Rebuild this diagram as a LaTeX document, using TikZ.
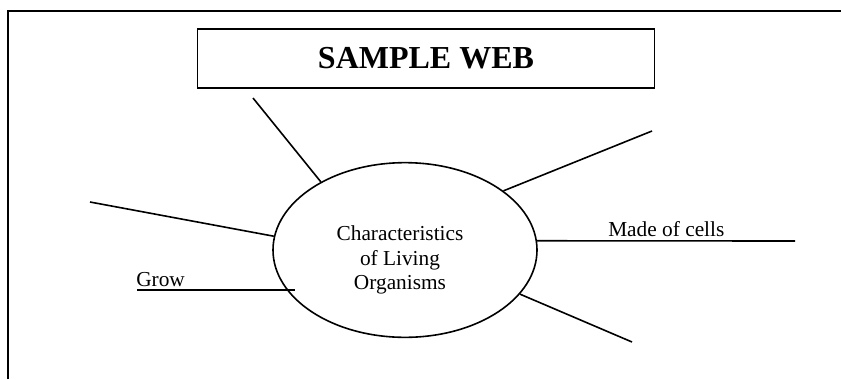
\documentclass[tikz,border=0pt]{standalone}
\usepackage{fontspec}
\setmainfont{Liberation Serif}
\usepackage{tikz}
\usetikzlibrary{shapes.geometric}
\tikzset{
	webline/.style={line width=1.2pt},
	titlebox/.style={draw, line width=1.3pt, minimum width=342.75pt, minimum height=44.5pt, inner sep=0pt, font=\fontsize{24}{28}\selectfont\bfseries},
	centeroval/.style={ellipse, draw, line width=1.2pt, minimum width=198pt, minimum height=131pt, inner sep=0pt},
	ovaltext/.style={inner sep=0pt, align=center, font=\fontsize{16}{18.4}\selectfont},
	branchlabel/.style={inner sep=0pt, font=\fontsize{16}{18}\selectfont}
}

\begin{document}
\begin{tikzpicture}[x=0.75pt, y=-0.75pt]
	\useasboundingbox (0,0) rectangle (841,379);
	%page frame (open at the bottom and on the right)
	\coordinate (framebl) at (8,379);
	\coordinate (frametl) at (8,11);
	\coordinate (frametr) at (841,11);
	\draw [webline] (framebl) -- (frametl) -- (frametr);
	
	\node [titlebox] (title) at (426,58.5) {SAMPLE WEB};
	\node [centeroval] (org) at (405,250) {};
	\node [ovaltext] (orgtext) at (400,260) {Characteristics\\of Living\\Organisms};
	
	%free ends of the spokes
	\coordinate (topleft) at (253,98);
	\coordinate (midleft) at (90,202);
	\coordinate (growstart) at (137,290);
	\coordinate (growend) at (295,290);
	\coordinate (topright) at (652,131);
	\coordinate (cellsend) at (795,241);
	\coordinate (lowright) at (632,342);
	
	\draw [webline] (org.141) -- (topleft);
	\draw [webline] (org.174) -- (midleft);
	\draw [webline] (growstart) -- (growend);
	\draw [webline] (org.31) -- (topright);
	\draw [webline] (org.4) -- (cellsend);
	\draw [webline] (org.-21) -- (lowright);
	
	\node [branchlabel, anchor=base west] (grow) at (136,286) {Grow};
	\node [branchlabel, anchor=base west] (cells) at (608,236) {Made of cells};
\end{tikzpicture}
\end{document}
